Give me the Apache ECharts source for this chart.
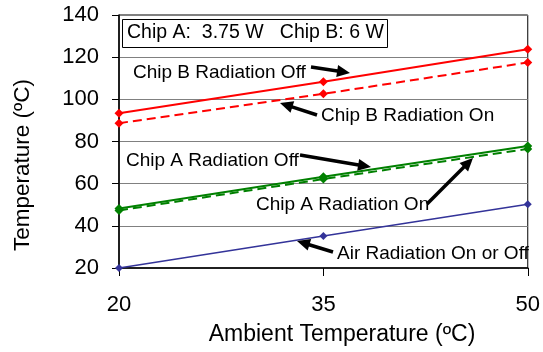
<!DOCTYPE html>
<html>
<head>
<meta charset="utf-8">
<script src="https://cdn.jsdelivr.net/npm/echarts@6/dist/echarts.min.js"></script>
<style>
html,body{margin:0;padding:0;background:#fff;}
#c{width:543px;height:352px;}
</style>
</head>
<body>
<div id="c"></div>
<script>
var ambient = [20, 35, 50];
var chipBOff = [93.4, 108.3, 123.8];
var chipBOn = [88.7, 102.6, 117.5];
var chipAOff = [48.2, 63.3, 77.9];
var chipAOn = [47.3, 62.2, 76.5];
var airOnOff = [20, 35.2, 50.2];
var yTicks = [20, 40, 60, 80, 100, 120, 140];

var FONT = 'Liberation Sans, Arial, sans-serif';

function pairs(vals) {
  return ambient.map(function (x, i) { return [x, vals[i]]; });
}

function arrow(x1, y1, x2, y2) {
  var dx = x2 - x1, dy = y2 - y1;
  var len = Math.sqrt(dx * dx + dy * dy);
  var ux = dx / len, uy = dy / len;
  var hl = 13, hw = 6;
  var bx = x2 - ux * hl, by = y2 - uy * hl;
  return [
    { type: 'line', shape: { x1: x1, y1: y1, x2: bx + ux * 2, y2: by + uy * 2 },
      style: { stroke: '#000', lineWidth: 3.5 }, z: 100 },
    { type: 'polygon', shape: { points: [[x2, y2], [bx - uy * hw, by + ux * hw], [bx + uy * hw, by - ux * hw]] },
      style: { fill: '#000' }, z: 100 }
  ];
}

function label(text, x, y) {
  return { type: 'text', left: x, top: y - 11, z: 100,
    style: { text: text, fill: '#000', font: '19px ' + FONT } };
}

function mkSeries(name, vals, color, dashed, width, size) {
  return {
    name: name, type: 'line', data: pairs(vals),
    symbol: 'diamond', symbolSize: size, showSymbol: true,
    lineStyle: { color: color, width: width, type: dashed ? [9, 5] : 'solid' },
    itemStyle: { color: color },
    animation: false
  };
}

var chart = echarts.init(document.getElementById('c'), null, { renderer: 'canvas' });

var graphics = [
  { type: 'rect', shape: { x: 122.5, y: 19.5, width: 265, height: 28 },
    style: { fill: '#fff', stroke: '#000', lineWidth: 1 }, z: 99 },
  { type: 'text', left: 127, top: 23, z: 100,
    style: { text: 'Chip A:  3.75 W   Chip B: 6 W', fill: '#000', font: '19.5px ' + FONT } },
  label('Chip B Radiation Off', 133, 74),
  label('Chip B Radiation On', 321, 117),
  label('Chip A Radiation Off', 126, 162),
  label('Chip A Radiation On', 256, 206),
  label('Air Radiation On or Off', 337, 255),
  { type: 'text', x: 23, y: 165, rotation: Math.PI / 2, z: 100,
    style: { text: 'Temperature (ºC)', fill: '#000', font: '22.5px ' + FONT, align: 'center', verticalAlign: 'middle' } },
  { type: 'text', x: 342, y: 335, z: 100,
    style: { text: 'Ambient Temperature (ºC)', fill: '#000', font: '23px ' + FONT, align: 'center', verticalAlign: 'middle' } }
].concat(arrow(311, 67, 350, 73))
 .concat(arrow(317, 115, 280, 103))
 .concat(arrow(300, 155, 371, 167))
 .concat(arrow(427, 204, 473, 158))
 .concat(arrow(333, 252, 297, 241));

chart.setOption({
  animation: false,
  backgroundColor: '#fff',
  textStyle: { fontFamily: FONT },
  grid: { left: 119, right: 14, top: 15, bottom: 84, show: true, borderColor: '#000', borderWidth: 1 },
  xAxis: {
    type: 'value', min: 20, max: 50, interval: 15,
    axisLine: { show: true, lineStyle: { color: '#000', width: 1.5 } },
    axisTick: { show: true, length: 8, lineStyle: { color: '#000' } },
    axisLabel: { fontSize: 22, color: '#000', margin: 26, fontFamily: FONT },
    splitLine: { show: false }
  },
  yAxis: {
    type: 'value', min: yTicks[0], max: yTicks[yTicks.length - 1], interval: 20,
    axisLine: { show: true, lineStyle: { color: '#000', width: 1.5 } },
    axisTick: { show: true, length: 7, lineStyle: { color: '#000' } },
    axisLabel: { fontSize: 22, color: '#000', margin: 20, fontFamily: FONT },
    splitLine: { show: true, lineStyle: { color: '#808080', width: 1 } }
  },
  series: [
    mkSeries('Chip B Radiation Off', chipBOff, '#FF0000', false, 2, 9),
    mkSeries('Chip B Radiation On', chipBOn, '#FF0000', true, 2, 9),
    mkSeries('Chip A Radiation Off', chipAOff, '#008000', false, 2, 9),
    mkSeries('Chip A Radiation On', chipAOn, '#008000', true, 2, 9),
    mkSeries('Air Radiation On or Off', airOnOff, '#333399', false, 1.5, 8)
  ],
  graphic: graphics
});
</script>
</body>
</html>
